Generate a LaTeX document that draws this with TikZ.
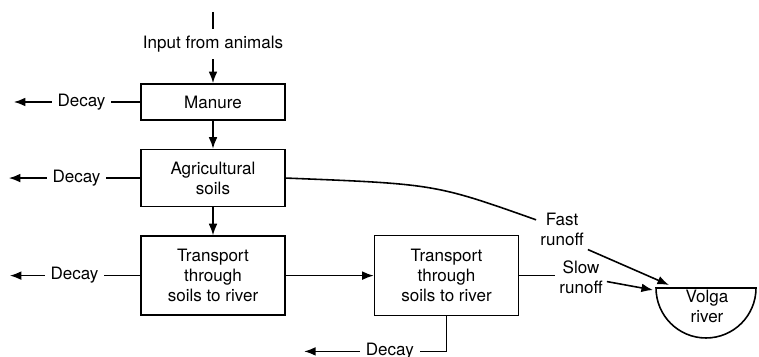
\documentclass[tikz,border=0pt]{standalone}
\usepackage{fontspec}
\setmainfont{TeX Gyre Heros}
\usepackage{tikz}
\usetikzlibrary{positioning}
\usetikzlibrary{arrows.meta}
\tikzstyle{process} = [rectangle, minimum width=2.88cm, text centered, draw=black, align=center, inner sep=2pt]
\tikzstyle{flowtext} = [align=center, inner sep=2pt]
\tikzstyle{sinktext} = [inner sep=0.1cm]
\tikzstyle{arrow} = [->,>={Latex[length=6.6pt,width=5pt]}]

\begin{document}
\begin{tikzpicture}[x=0.02cm, y=-0.02cm, node distance=0.56cm, line width=0.9pt, font=\fontsize{9.7}{11.3}\selectfont]
        \useasboundingbox (0,0) rectangle (759,357);
        \node (manure) [process, minimum height=0.72cm] at (213,102) {Manure};
        \node (agri) [process, minimum height=1.14cm, below=of manure] {Agricultural\\soils};
        \node (soilsA) [process, minimum height=1.58cm, below=of agri] {Transport\\through\\soils to river};
        \node (soilsB) [process, minimum height=1.6cm, right=1.76cm of soilsA] {Transport\\through\\soils to river};
        \node (input) [flowtext, inner sep=0.12cm, above=0.48cm of manure] {Input from animals};
        \coordinate (inputtop) at (213,12);

        \node (decayM) [sinktext, left=0.58cm of manure] {Decay};
        \coordinate [left=0.76cm of decayM] (sinkM);
        \node (decayA) [sinktext, left=0.68cm of agri] {Decay};
        \coordinate [left=0.76cm of decayA] (sinkA);
        \node (decayS) [sinktext, left=0.72cm of soilsA] {Decay};
        \coordinate [left=0.7cm of decayS] (sinkS);
        \coordinate (turnB) at ([yshift=-0.7cm]soilsB.south);
        \node (decayB) [sinktext, left=0.54cm of turnB] {Decay};
        \coordinate [left=1.12cm of decayB] (sinkB);

        \coordinate (volgatop) at (706,288);
        \node (volga) [flowtext] at (707,306) {Volga\\river};
        \node (fast) [flowtext] at (562,229) {Fast\\runoff};
        \node (slow) [flowtext] at (581,277) {Slow\\runoff};
        \coordinate (fastend) at (669,285);
        \coordinate (slowend) at (653,290);

        \draw (inputtop) -- (input);
        \draw [arrow] (input) -- (manure);
        \draw [arrow] (manure) -- (agri);
        \draw [arrow] (agri) -- (soilsA);
        \draw [arrow] (soilsA) -- (soilsB);

        \draw (manure) -- (decayM);
        \draw [arrow] (decayM) -- (sinkM);
        \draw (agri) -- (decayA);
        \draw [arrow] (decayA) -- (sinkA);
        \draw (soilsA) -- (decayS);
        \draw [arrow] (decayS) -- (sinkS);
        \draw (soilsB.south) |- (decayB);
        \draw [arrow] (decayB) -- (sinkB);

        \draw ([xshift=-1cm]volgatop) -- ([xshift=1cm]volgatop) arc[start angle=0, end angle=-180, radius=1cm] -- cycle;
        \draw (agri.east) .. controls (435,184) .. (fast);
        \draw [arrow] (fast.south east) -- (fastend);
        \draw (soilsB.east) -- (soilsB.east -| slow.west);
        \draw [arrow] (slow.-10) -- (slowend);
    \end{tikzpicture}
\end{document}
